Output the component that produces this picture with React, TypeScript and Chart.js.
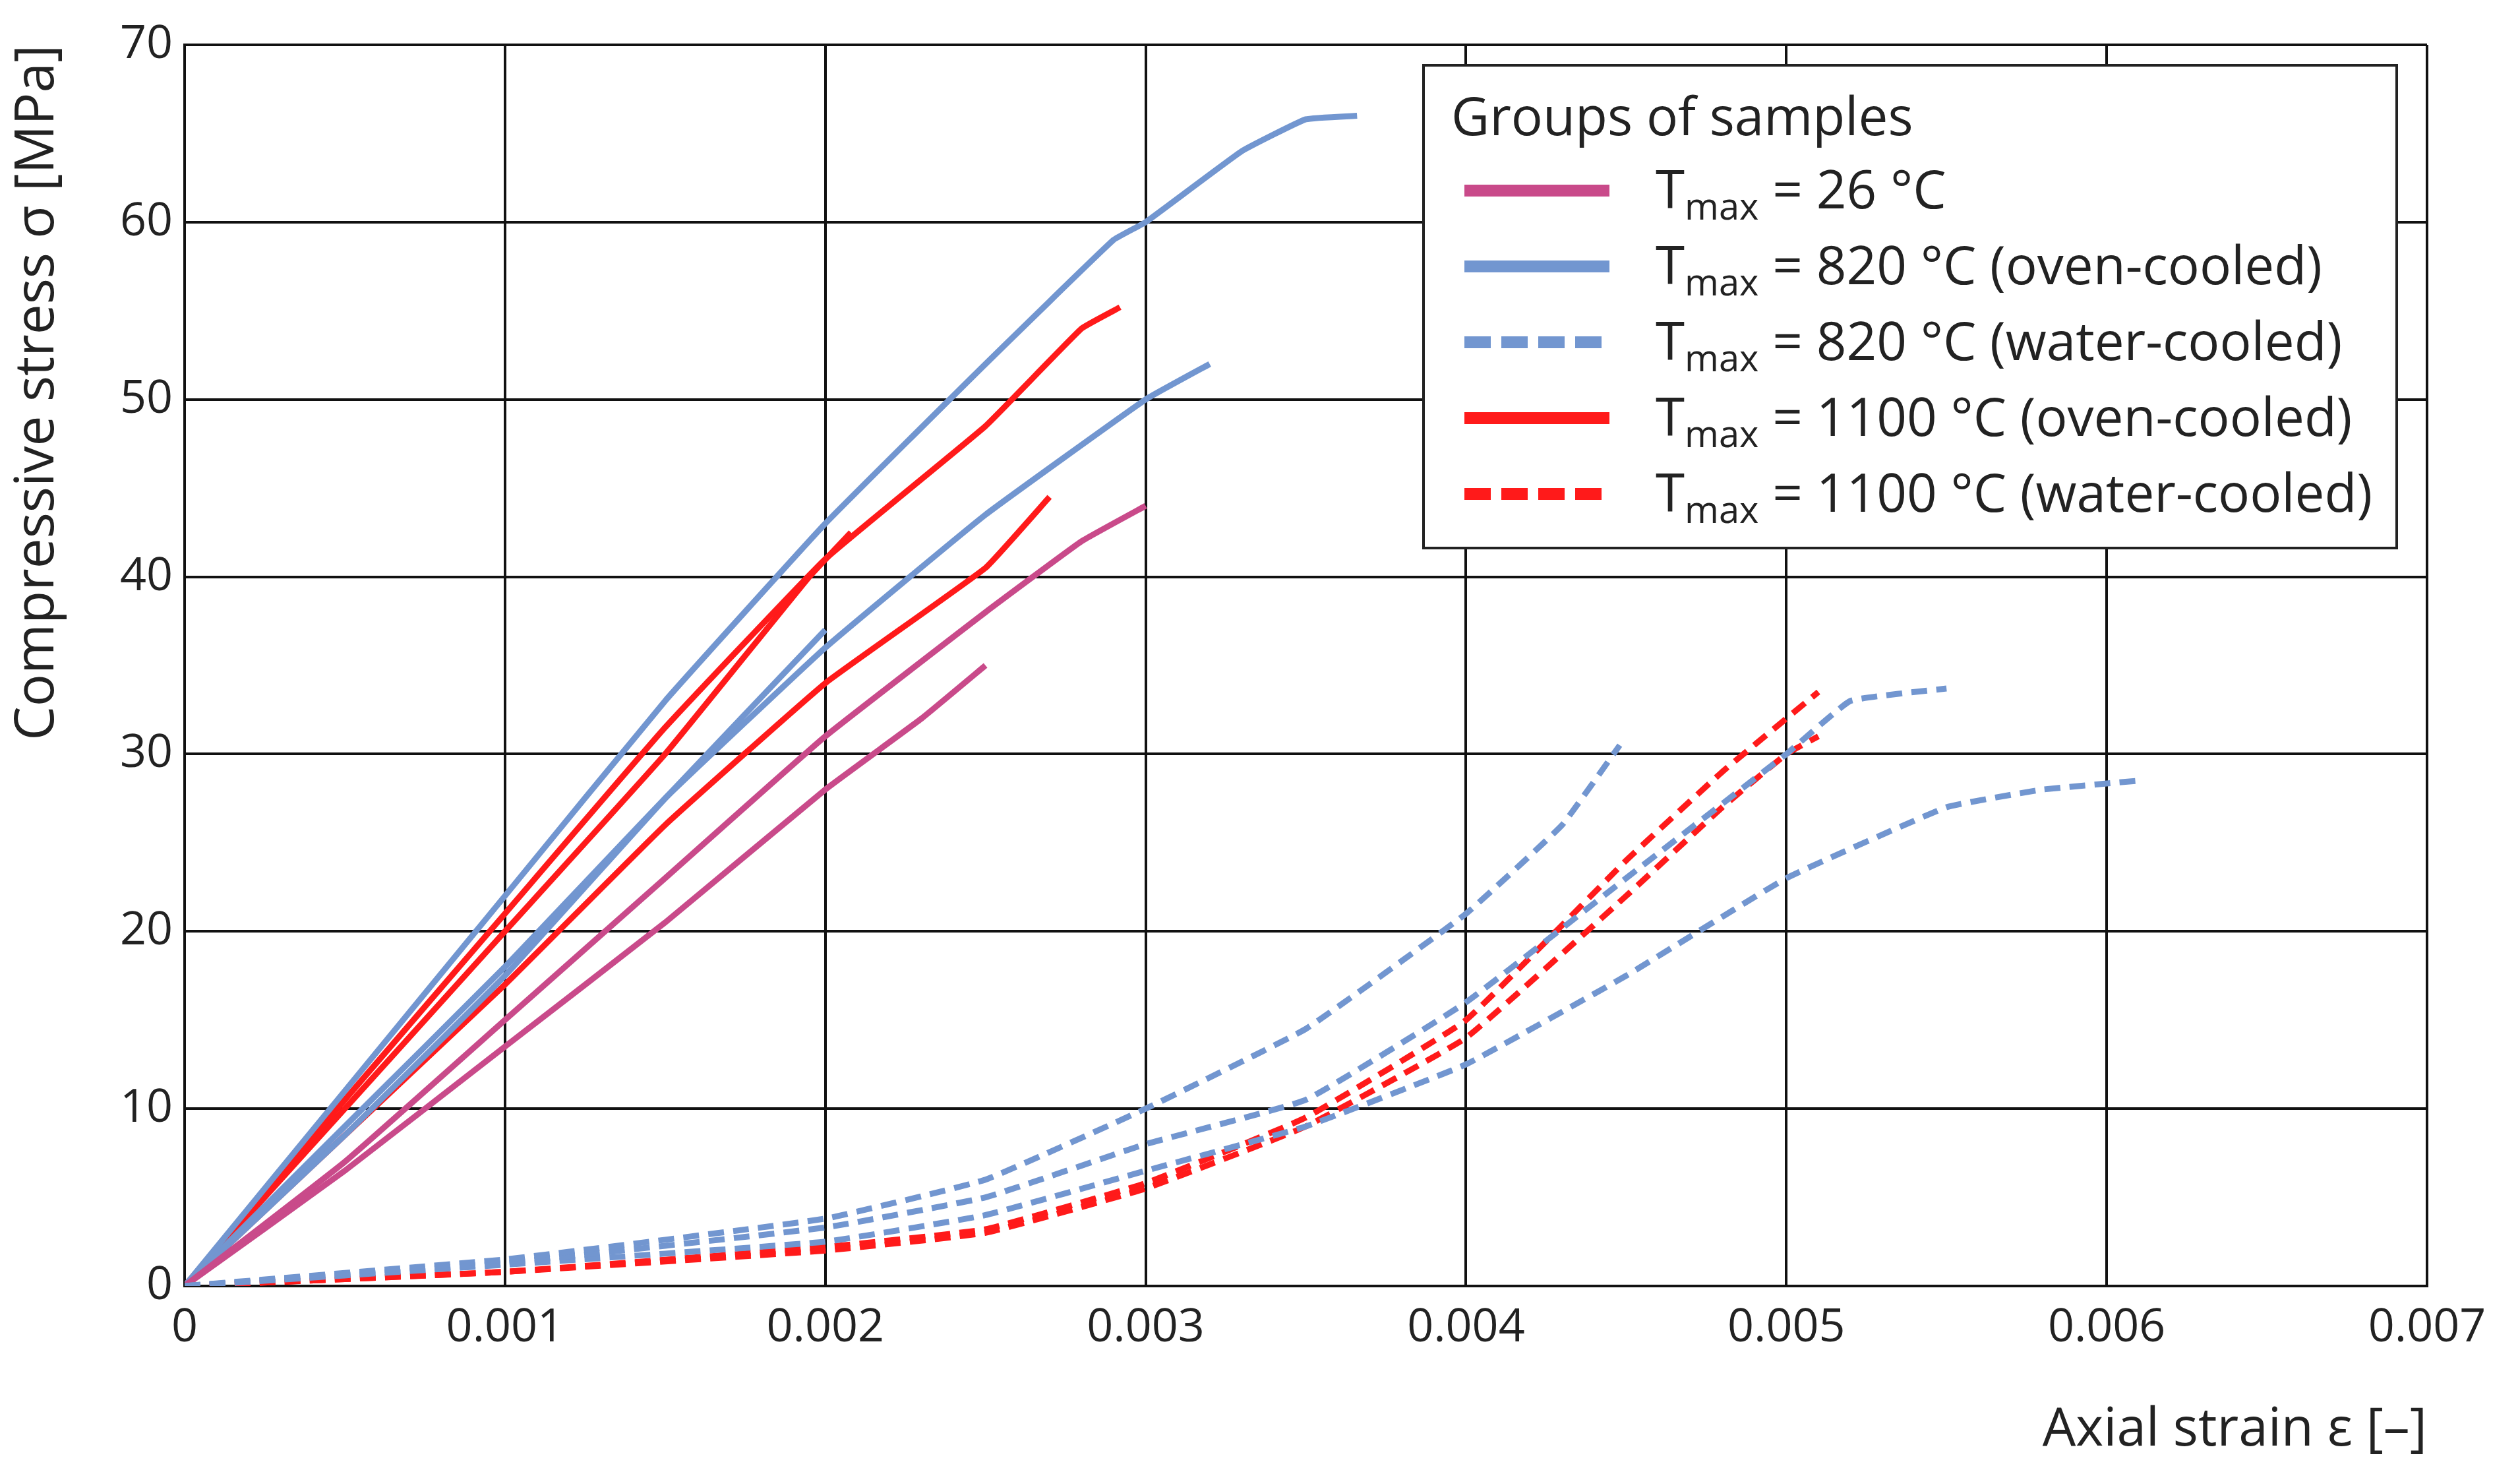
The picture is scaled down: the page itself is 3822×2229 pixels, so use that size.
import React, { useEffect, useRef } from "react";
import { Chart, registerables } from "chart.js";
Chart.register(...registerables);

const PINK = "#c94a8a";
const BLUE = "#7296d0";
const RED = "#ff1a1a";

const pink1 = [[0,0],[0.0005,7],[0.001,15],[0.0015,23],[0.002,31],[0.0025,38],[0.0028,42],[0.003,44]];
const pink2 = [[0,0],[0.0005,6.5],[0.001,13.5],[0.0015,20.5],[0.002,28],[0.0023,32],[0.0025,35]];
const blueS1 = [[0,0],[0.0005,11],[0.001,22],[0.0015,33],[0.002,43],[0.0025,52],[0.0029,59],[0.003,60],[0.0033,64],[0.0035,65.8],[0.00366,66]];
const blueS2 = [[0,0],[0.0005,9],[0.001,18],[0.0015,27.5],[0.002,36],[0.0025,43.5],[0.003,50],[0.0032,52]];
const blueS3 = [[0,0],[0.0005,8.5],[0.001,17.5],[0.0015,27.5],[0.002,37]];
const redS1 = [[0,0],[0.0005,10.5],[0.001,21],[0.0015,31.5],[0.002,41],[0.0025,48.5],[0.0028,54],[0.00292,55.2]];
const redS2 = [[0,0],[0.0005,10],[0.001,20],[0.0015,30],[0.00195,40],[0.00208,42.5]];
const redS3 = [[0,0],[0.0005,8.5],[0.001,17],[0.0015,26],[0.002,34],[0.0025,40.5],[0.0027,44.5]];
const blueD1 = [[0,0],[0.001,1.5],[0.002,3.8],[0.0025,6],[0.003,10],[0.0035,14.5],[0.004,21],[0.0043,26],[0.00448,30.5]];
const blueD2 = [[0,0],[0.001,1.3],[0.002,3.3],[0.0025,5],[0.003,8],[0.0035,10.5],[0.004,16],[0.0045,23],[0.005,30],[0.0052,33],[0.0055,33.7]];
const blueD3 = [[0,0],[0.001,1.2],[0.002,2.5],[0.0025,4],[0.003,6.5],[0.0035,9],[0.004,12.5],[0.0045,17.5],[0.005,23],[0.0055,27],[0.0058,28],[0.0061,28.5]];
const redD1 = [[0,0],[0.001,0.8],[0.002,2],[0.0025,3],[0.003,5.5],[0.0035,9],[0.004,14],[0.0045,22],[0.0048,27],[0.005,30],[0.0051,31]];
const redD2 = [[0,0],[0.001,0.8],[0.002,2.2],[0.0025,3.2],[0.003,5.8],[0.0035,9.5],[0.004,15],[0.0045,24],[0.0048,29],[0.0051,33.5]];

const legendItems = [
  { color: PINK, dash: false, label: " = 26 °C" },
  { color: BLUE, dash: false, label: " = 820 °C (oven-cooled)" },
  { color: BLUE, dash: true, label: " = 820 °C (water-cooled)" },
  { color: RED, dash: false, label: " = 1100 °C (oven-cooled)" },
  { color: RED, dash: true, label: " = 1100 °C (water-cooled)" },
];

const FONT = "'Open Sans', sans-serif";

function ds(data: number[][], color: string, dash: boolean) {
  return {
    data: data.map(([x, y]) => ({ x, y })),
    borderColor: color,
    borderWidth: 9,
    borderDash: dash ? [24, 14] : [],
    pointRadius: 0,
    fill: false,
    tension: 0.1,
  };
}

export default function App() {
  const ref = useRef<HTMLCanvasElement>(null);
  useEffect(() => {
    const chart = new Chart(ref.current!, {
      type: "line",
      data: {
        datasets: [
          ds(blueD1, BLUE, true), ds(blueD2, BLUE, true), ds(blueD3, BLUE, true),
          ds(redD1, RED, true), ds(redD2, RED, true),
          ds(pink1, PINK, false), ds(pink2, PINK, false),
          ds(blueS1, BLUE, false), ds(blueS2, BLUE, false), ds(blueS3, BLUE, false),
          ds(redS1, RED, false), ds(redS2, RED, false), ds(redS3, RED, false),
        ],
      },
      options: {
        animation: false,
        responsive: false,
        devicePixelRatio: 1,
        layout: { padding: { top: 41, right: 133, left: 0, bottom: 0 } },
        plugins: { legend: { display: false }, tooltip: { enabled: false } },
        scales: {
          x: {
            type: "linear", min: 0, max: 0.007,
            ticks: { stepSize: 0.001, color: "#222", font: { family: FONT, size: 70 }, padding: 22,
              callback: (v: any) => (v === 0 ? "0" : Number(v).toFixed(3)) },
            grid: { color: "#111", lineWidth: 4, drawTicks: false },
            border: { color: "#111", width: 4 },
            title: { display: true, text: "Axial strain ε [–]", align: "end", color: "#222", font: { family: FONT, size: 80 }, padding: { top: 20 } },
            afterFit: (s: any) => { s.height = 271; },
          },
          y: {
            min: 0, max: 70,
            ticks: { stepSize: 10, color: "#222", font: { family: FONT, size: 70 }, padding: 18 },
            grid: { color: "#111", lineWidth: 4, drawTicks: false },
            border: { color: "#111", width: 4 },
            title: { display: true, text: "Compressive stress σ [MPa]", align: "end", color: "#222", font: { family: FONT, size: 82 }, padding: 0 },
            afterFit: (s: any) => { s.width = 272; },
          },
        },
      },
    } as any);
    return () => chart.destroy();
  }, []);
  return (
    <div style={{ position: "relative", width: 3806, height: 2213 }}>
      <canvas ref={ref} width={3806} height={2213} style={{ width: 3806, height: 2213 }} />
      <div style={{ position: "absolute", left: 2149, top: 89, width: 1480, height: 736, border: "4px solid #222",
        background: "#fff", boxSizing: "border-box", fontFamily: FONT, fontSize: 80, color: "#222" }}>
        <div style={{ position: "absolute", left: 40, top: 18, whiteSpace: "nowrap" }}>Groups of samples</div>
        {legendItems.map((it, i) => (
          <div key={i} style={{ position: "absolute", left: 0, top: 138 + i * 115, height: 100, width: "100%", display: "flex", alignItems: "center", whiteSpace: "nowrap" }}>
            <svg width={230} height={30} style={{ marginLeft: 60 }}>
              <line x1={0} y1={15} x2={220} y2={15} stroke={it.color} strokeWidth={18}
                strokeDasharray={it.dash ? "40 16" : undefined} />
            </svg>
            <span style={{ marginLeft: 60 }}>T<sub style={{ fontSize: 56 }}>max</sub>{it.label}</span>
          </div>
        ))}
      </div>
    </div>
  );
}
